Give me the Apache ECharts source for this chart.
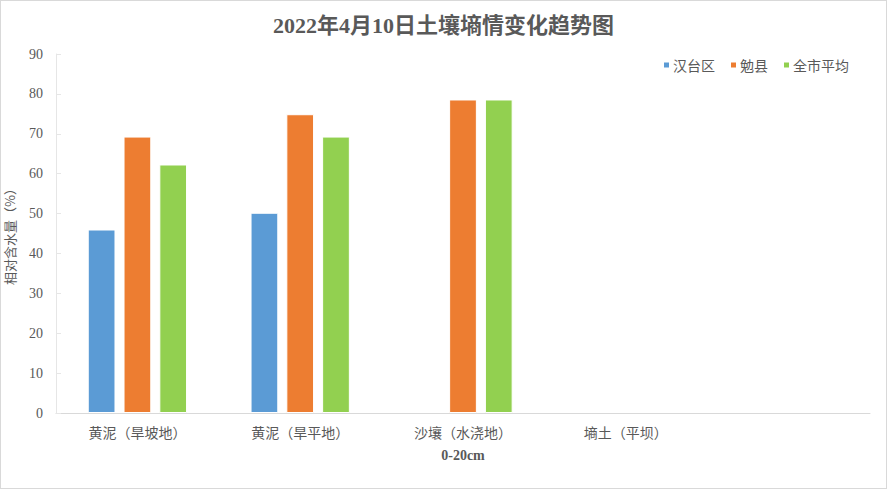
<!DOCTYPE html>
<html>
<head>
<meta charset="utf-8">
<script src="https://cdn.jsdelivr.net/npm/echarts@6/dist/echarts.min.js"></script>
<style>
  html, body { margin: 0; padding: 0; background: #fff; }
  #chart { width: 885px; height: 487px; border: 1px solid #d9d9d9; }
</style>
</head>
<body>
<div id="chart"></div>
<script>
(function() {
  var categories = ['黄泥（旱坡地）', '黄泥（旱平地）', '沙壤（水浇地）', '墒土（平坝）', ''];
  var hantai = [46.0, 50.2, null, null, null];
  var mianxian = [69.3, 74.9, 78.6, null, null];
  var cityAvg = [62.3, 69.3, 78.6, null, null];

  var ink = '#595959';
  var serif = '"Liberation Serif", "Noto Sans CJK SC", serif';
  var sans = '"Noto Sans CJK SC", sans-serif';

  var chart = echarts.init(document.getElementById('chart'), null, { renderer: 'svg' });

  function bar(name, data, color) {
    return {
      name: name,
      type: 'bar',
      data: data,
      barGap: '29%',
      barCategoryGap: '39%',
      animation: false,
      itemStyle: { color: color, borderColor: '#ffffff', borderWidth: 1 }
    };
  }

  chart.setOption({
    title: {
      text: '2022年4月10日土壤墒情变化趋势图',
      left: 'center',
      top: 8,
      textStyle: { color: ink, fontSize: 22, fontWeight: 'bold', fontFamily: serif }
    },
    legend: {
      data: ['汉台区', '勉县', '全市平均'],
      right: 32,
      top: 52,
      itemWidth: 7,
      itemHeight: 7,
      itemGap: 14,
      icon: 'rect',
      textStyle: { color: ink, fontSize: 14, fontFamily: sans, padding: [0, 0, 0, -2] }
    },
    grid: { left: 55, right: 16, top: 53, bottom: 75, outerBoundsMode: 'none', containLabel: false },
    xAxis: {
      type: 'category',
      data: categories,
      name: '0-20cm',
      nameLocation: 'middle',
      nameGap: 35,
      nameTextStyle: { color: ink, fontSize: 14, fontWeight: 'bold', fontFamily: serif },
      axisLine: { lineStyle: { color: '#d9d9d9', width: 1 } },
      axisTick: { show: false },
      axisLabel: { color: ink, fontSize: 14, fontFamily: sans, margin: 12, interval: 0 }
    },
    yAxis: {
      type: 'value',
      min: 0,
      max: 90,
      interval: 10,
      name: '相对含水量（%）',
      nameLocation: 'middle',
      nameGap: 40,
      nameTextStyle: { color: ink, fontSize: 13, fontFamily: sans },
      axisLine: { show: true, lineStyle: { color: '#e6e6e6' } },
      axisTick: { show: true, inside: true, length: 5, lineStyle: { color: '#e6e6e6' } },
      splitLine: { show: false },
      axisLabel: { color: ink, fontSize: 14, fontFamily: serif, margin: 13 }
    },
    series: [
      bar('汉台区', hantai, '#5b9bd5'),
      bar('勉县', mianxian, '#ed7d31'),
      bar('全市平均', cityAvg, '#92d050')
    ]
  });

  window.addEventListener('resize', function() { chart.resize(); });
})();
</script>
</body>
</html>
